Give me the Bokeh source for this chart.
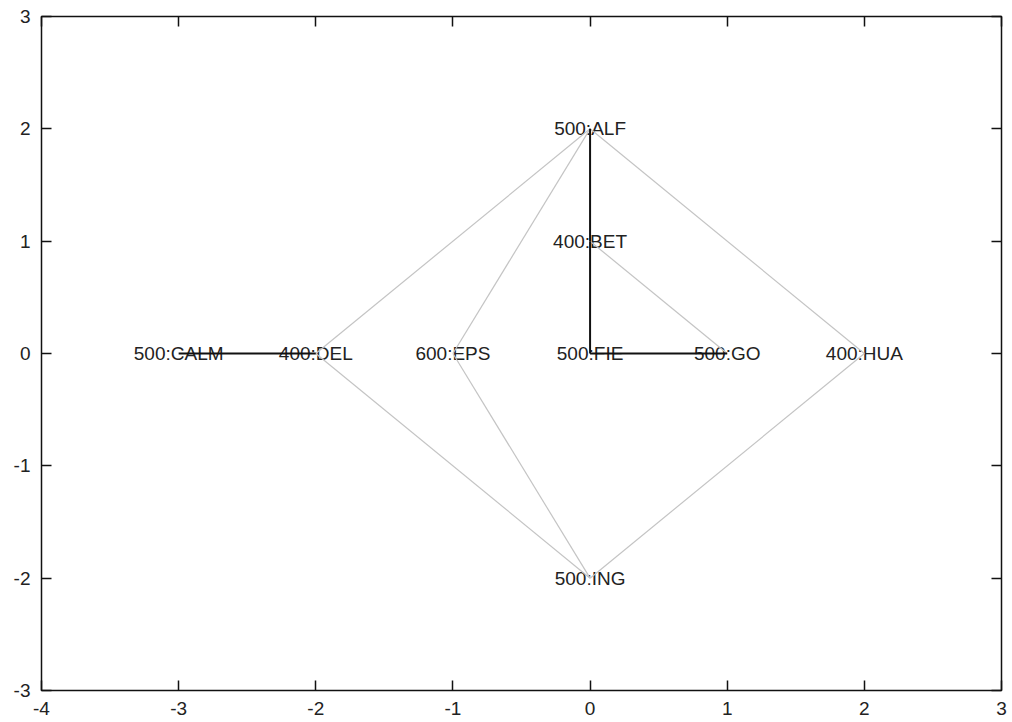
from bokeh.plotting import figure
from bokeh.models import ColumnDataSource, Range1d, LinearAxis, FixedTicker
from bokeh.core.properties import value
from bokeh.embed import file_html
from bokeh.resources import INLINE

# Nodes
node_names = ["ALF", "BET", "CALM", "DEL", "EPS", "FIE", "GO", "HUA", "ING"]
node_weights = [500, 400, 500, 400, 600, 500, 500, 400, 500]
node_x = [0, 0, -3, -2, -1, 0, 1, 2, 0]
node_y = [2, 1, 0, 0, 0, 0, 0, 0, -2]

# Edges
black_edges = [("CALM", "DEL"), ("ALF", "BET"), ("BET", "FIE"), ("FIE", "GO")]
gray_edges = [("ALF", "DEL"), ("ALF", "EPS"), ("ALF", "HUA"), ("BET", "GO"),
              ("ING", "DEL"), ("ING", "EPS"), ("ING", "HUA")]

# Axis ticks
x_ticks = [-4, -3, -2, -1, 0, 1, 2, 3]
y_ticks = [-3, -2, -1, 0, 1, 2, 3]

FONT = "Liberation Sans"
pos = {n: (x, y) for n, x, y in zip(node_names, node_x, node_y)}


def edge_source(edges):
    return ColumnDataSource(dict(
        x0=[pos[a][0] for a, b in edges], y0=[pos[a][1] for a, b in edges],
        x1=[pos[b][0] for a, b in edges], y1=[pos[b][1] for a, b in edges]))


p = figure(width=1008, height=722, x_range=Range1d(-4, 3), y_range=Range1d(-3, 3),
           output_backend="svg", toolbar_location=None,
           x_axis_location=None, y_axis_location=None,
           min_border_left=41, min_border_right=7, min_border_top=16, min_border_bottom=32)
p.xgrid.visible = False
p.ygrid.visible = False
p.outline_line_color = "#111111"
p.outline_line_width = 1.5
p.background_fill_color = "white"
p.border_fill_color = "white"


def make_axis(ticks, labels=True):
    ax = LinearAxis(ticker=FixedTicker(ticks=ticks))
    ax.axis_line_color = None
    ax.major_tick_in = 10
    ax.major_tick_out = 0
    ax.major_tick_line_color = "#111111"
    ax.major_tick_line_width = 1.5
    ax.minor_tick_line_color = None
    ax.major_label_text_font = FONT
    ax.major_label_text_font_size = "19px"
    ax.major_label_text_color = "#222222"
    if labels:
        ax.major_label_overrides = {t: str(t) for t in ticks}
        ax.major_label_standoff = 11
    else:
        ax.major_label_overrides = {t: "" for t in ticks}
        ax.major_label_standoff = 0
    return ax


p.add_layout(make_axis(x_ticks), "below")
p.add_layout(make_axis(y_ticks), "left")
p.add_layout(make_axis(x_ticks, False), "above")
p.add_layout(make_axis(y_ticks, False), "right")

labels = ["%d:%s" % (w, n) for w, n in zip(node_weights, node_names)]
p.text(x="x", y="y", text="t",
       source=ColumnDataSource(dict(x=node_x, y=node_y, t=labels)),
       text_font=value(FONT), text_font_size="19px", text_align="center",
       text_baseline="middle", text_color="#222222")

p.segment(x0="x0", y0="y0", x1="x1", y1="y1", source=edge_source(gray_edges),
          line_color="#c4c4c4", line_width=1.2)
p.segment(x0="x0", y0="y0", x1="x1", y1="y1", source=edge_source(black_edges),
          line_color="#111111", line_width=2)

open("out.html", "w").write(file_html(p, INLINE))
